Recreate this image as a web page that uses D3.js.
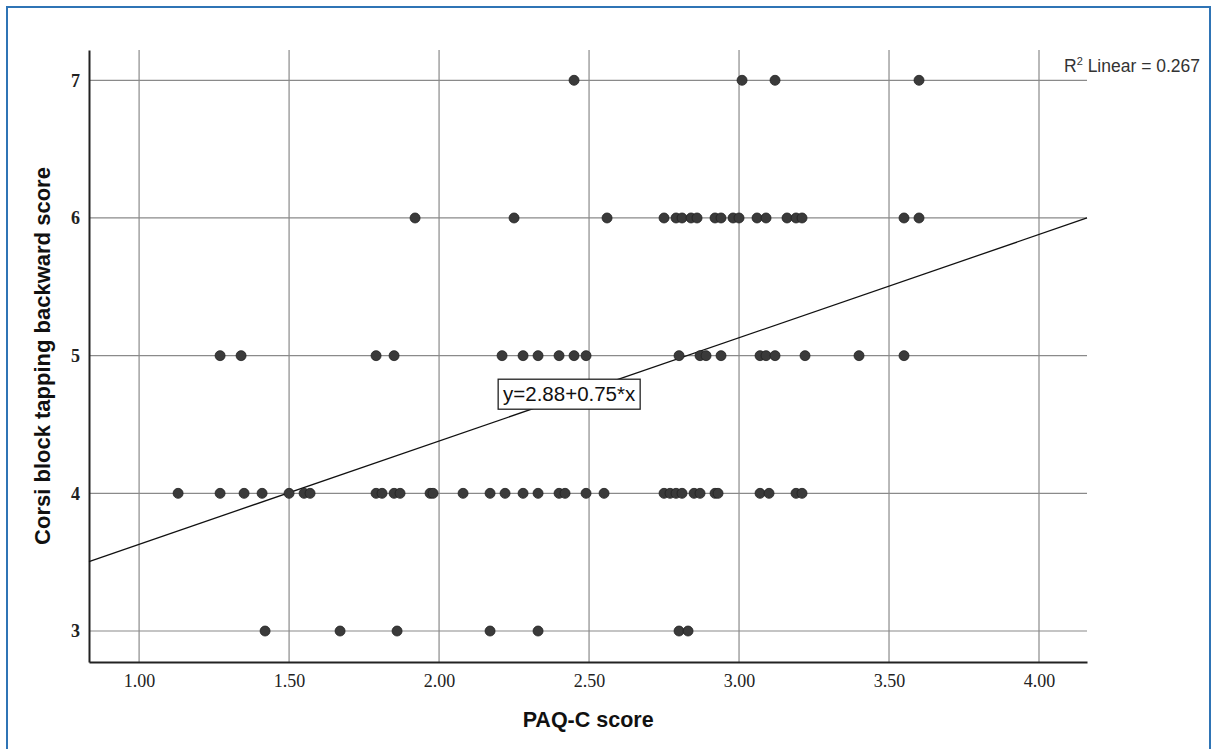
<!DOCTYPE html>
<html>
<head>
<meta charset="utf-8">
<script src="https://cdn.jsdelivr.net/npm/d3@7"></script>
<style>
  body { margin: 0; background: #fff; }
  svg { display: block; }
</style>
</head>
<body>
<div id="chart"></div>
<script>
// PAQ-C score (x) for each Corsi backward score (y)
var row3 = [1.42, 1.67, 1.86, 2.17, 2.33, 2.80, 2.83];
var row4 = [1.13, 1.27, 1.35, 1.41, 1.50, 1.55, 1.57, 1.79, 1.81, 1.85, 1.87, 1.97, 1.98,
            2.08, 2.17, 2.22, 2.28, 2.33, 2.40, 2.42, 2.49, 2.55,
            2.75, 2.77, 2.79, 2.81, 2.85, 2.87, 2.92, 2.93, 3.07, 3.10, 3.19, 3.21];
var row5 = [1.27, 1.34, 1.79, 1.85, 2.21, 2.28, 2.33, 2.40, 2.45, 2.49,
            2.80, 2.87, 2.89, 2.94, 3.07, 3.09, 3.12, 3.22, 3.40, 3.55];
var row6 = [1.92, 2.25, 2.56, 2.75, 2.79, 2.81, 2.84, 2.86, 2.92, 2.94, 2.98, 3.00,
            3.06, 3.09, 3.16, 3.19, 3.21, 3.55, 3.60];
var row7 = [2.45, 3.01, 3.12, 3.60];

var xTicks = [1.0, 1.5, 2.0, 2.5, 3.0, 3.5, 4.0];
var yTicks = [3, 4, 5, 6, 7];
var fit = {a: 2.88, b: 0.75, r2: 0.267};

var data = [];
[[3, row3], [4, row4], [5, row5], [6, row6], [7, row7]].forEach(function(r) {
  r[1].forEach(function(v) { data.push({x: v, y: r[0]}); });
});

var W = 1216, H = 749;
var margin = {top: 50, right: 129, bottom: 87, left: 89},
  width = W - margin.left - margin.right,
  height = H - margin.top - margin.bottom;

var svg = d3.select("#chart")
  .append("svg")
  .attr("width", W)
  .attr("height", H);

// blue frame
svg.append("path")
  .attr("d", "M7,749 V7 H1210 V749")
  .attr("fill", "none")
  .attr("stroke", "#2f74b5")
  .attr("stroke-width", 2);

var g = svg.append("g")
  .attr("transform", "translate(" + margin.left + "," + margin.top + ")");

var x = d3.scaleLinear().domain([0.833, 4.16]).range([0, width]);
var y = d3.scaleLinear().domain([2.775, 7.22]).range([height, 0]);

// grid
g.append("g").selectAll("line")
  .data(xTicks).enter().append("line")
  .attr("x1", function(d) { return x(d); })
  .attr("x2", function(d) { return x(d); })
  .attr("y1", 0).attr("y2", height)
  .attr("stroke", "#8a8a8a").attr("stroke-width", 1.2);
g.append("g").selectAll("line")
  .data(yTicks).enter().append("line")
  .attr("x1", 0).attr("x2", width)
  .attr("y1", function(d) { return y(d); })
  .attr("y2", function(d) { return y(d); })
  .attr("stroke", "#8a8a8a").attr("stroke-width", 1.2);

// axes
var xAxis = g.append("g")
  .attr("transform", "translate(0," + height + ")")
  .call(d3.axisBottom(x).tickValues(xTicks).tickFormat(d3.format(".2f")).tickSize(0).tickPadding(12));
var yAxis = g.append("g")
  .call(d3.axisLeft(y).tickValues(yTicks).tickFormat(d3.format("d")).tickSize(0).tickPadding(9));
[xAxis, yAxis].forEach(function(a) {
  a.select(".domain").attr("stroke", "#222").attr("stroke-width", 2);
  a.selectAll("text")
    .style("font-family", "'Liberation Serif', 'DejaVu Serif', serif")
    .style("font-size", "18px")
    .attr("fill", "#222");
});
yAxis.selectAll("text").style("font-weight", "bold");

// regression line
var xd = x.domain();
g.append("line")
  .attr("x1", x(xd[0])).attr("y1", y(fit.a + fit.b * xd[0]))
  .attr("x2", x(xd[1])).attr("y2", y(fit.a + fit.b * xd[1]))
  .attr("stroke", "#111").attr("stroke-width", 1.3);

// points
g.selectAll("circle.pt")
  .data(data).enter().append("circle")
  .attr("class", "pt")
  .attr("cx", function(d) { return x(d.x); })
  .attr("cy", function(d) { return y(d.y); })
  .attr("r", 5)
  .attr("fill", "#3a3a3a")
  .attr("stroke", "#222")
  .attr("stroke-width", 0.8);

// equation label
var eqX = 2.197, eqY = 4.72;
var eq = g.append("g")
  .attr("transform", "translate(" + x(eqX) + "," + y(eqY) + ")");
eq.append("rect")
  .attr("x", 0).attr("y", -15)
  .attr("width", 142).attr("height", 30)
  .attr("fill", "#fff").attr("stroke", "#222").attr("stroke-width", 1.3);
eq.append("text")
  .attr("x", 71).attr("y", 7)
  .attr("text-anchor", "middle")
  .style("font-family", "'Liberation Sans', Arial, sans-serif")
  .style("font-size", "20.5px")
  .attr("fill", "#111")
  .text("y=" + fit.a.toFixed(2) + "+" + fit.b.toFixed(2) + "*x");

// R2 label
var r2 = svg.append("text")
  .attr("x", 1064).attr("y", 72)
  .style("font-family", "'Liberation Sans', Arial, sans-serif")
  .style("font-size", "17.5px")
  .attr("fill", "#333");
r2.append("tspan").text("R");
r2.append("tspan").attr("dy", -7).style("font-size", "11px").text("2");
r2.append("tspan").attr("dy", 7).text(" Linear = " + fit.r2.toFixed(3));

// axis titles
svg.append("text")
  .attr("x", margin.left + x(2.497))
  .attr("y", 727)
  .attr("text-anchor", "middle")
  .style("font-family", "'Liberation Sans', Arial, sans-serif")
  .style("font-size", "21.5px")
  .style("font-weight", "bold")
  .attr("fill", "#111")
  .text("PAQ-C score");

svg.append("text")
  .attr("transform", "translate(50," + (margin.top + height / 2) + ") rotate(-90)")
  .attr("text-anchor", "middle")
  .style("font-family", "'Liberation Sans', Arial, sans-serif")
  .style("font-size", "22px")
  .style("font-weight", "bold")
  .attr("fill", "#111")
  .text("Corsi block tapping backward score");
</script>
</body>
</html>
